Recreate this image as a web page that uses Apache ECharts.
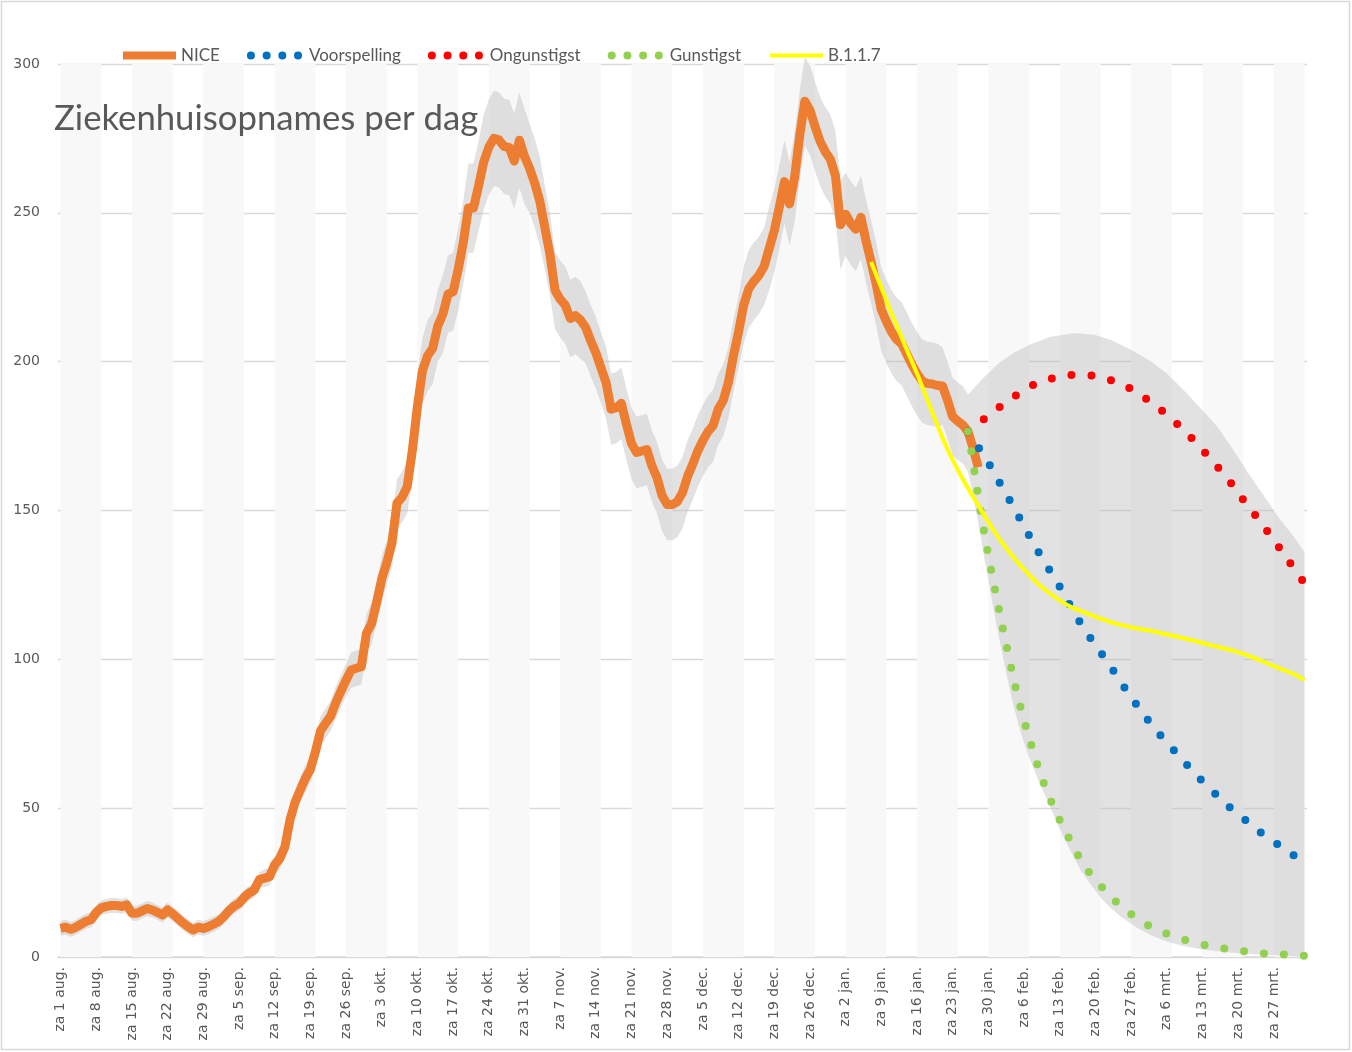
<!DOCTYPE html>
<html><head><meta charset="utf-8">
<script src="https://cdn.jsdelivr.net/npm/echarts@6/dist/echarts.min.js"></script>
<style>html,body{margin:0;padding:0;background:#fff}#c{width:1352px;height:1052px}</style>
</head><body><div id="c"></div>
<script>
// ---------- data ----------
const START_DATE = '2020-08-01';
const DAY_COUNT = 245; // 1 aug 2020 .. 2 apr 2021
const WEEKDAYS = ['zo','ma','di','wo','do','vr','za'];
const MONTHS = ['jan.','feb.','mrt.','apr.','mei','jun.','jul.','aug.','sep.','okt.','nov.','dec.'];
const Y_TICKS = [0, 50, 100, 150, 200, 250, 300];

// NICE daily hospital admissions, from 1 aug 2020
const NICE = [
  9.6, 10, 9.3, 10, 11, 12, 12.5, 15, 16.5, 17,
  17.3, 17.3, 17, 17.5, 14.7, 14.7, 15.5, 16.3, 15.8, 15,
  14.1, 15.8, 14.5, 13, 11.5, 10.2, 9.1, 10, 9.6, 10.2,
  11, 11.9, 13.5, 15.5, 17, 18, 20, 21.5, 22.5, 26,
  26.5, 27, 31, 33, 37, 46, 52, 56, 60, 63,
  69, 76, 78.5, 81, 85.5, 89.3, 93, 96.4, 97, 97.5,
  108.7, 112, 119, 127, 132.5, 139, 152.5, 154.5, 158, 170,
  185, 197, 202, 204.5, 212, 216, 222.7, 223.5, 231, 240,
  251.6, 251.6, 259, 267, 272, 275, 274.5, 272.3, 272, 267.4,
  274.4, 269, 265, 260, 254, 245, 236, 224, 221, 219,
  214.5, 215.5, 214, 211.5, 207, 203, 198, 193, 184, 184.5,
  186, 179, 172.5, 169.5, 170, 170.5, 165, 161, 155, 152,
  152, 153, 156, 161.5, 165.5, 170, 173.5, 176.5, 178.5, 184,
  187, 193, 202, 210, 219, 224.5, 227, 229, 232, 238,
  244, 252, 260.5, 253, 262, 276, 287.5, 284.5, 279, 274,
  270.5, 268, 262.5, 246, 249.5, 246.5, 244.5, 248.5, 240.5, 233.5,
  226, 217.5, 213.5, 210, 207.5, 206, 202.5, 199, 196, 193.5,
  192.7, 192.5, 192, 191.8, 187, 181.5, 180, 178.7, 176.5, 171, 164.5
];
// half width of the grey band around NICE, days 0..177
const NICE_SPREAD = [
  2.5,2.5,2.5,2.5,2.5,2.5,2.5,2.5,2.5,2.5,
  2.5,2.5,2.5,2.5,2.5,2.5,2.5,2.5,2.5,2.5,
  2.5,2.5,2.5,2.5,2.5,2.5,2.5,2.5,2.5,2.5,
  2.5,2.5,2.5,2.5,2.5,2.5,2.5,2.5,2.5,2.5,
  3,3,3,3.5,3.5,4,4,4,4.5,4.5,
  5,5,5,5,5.5,5.5,5.5,6,6,6,
  6.5,7,7,7.5,7.5,8,8,8.5,9,10,
  11,11,12,12,12,13,13,13,14,14,
  15,15,15,16,16,16,16,16,16,16,
  16,16,15,15,15,14,14,13,13,13,
  13,13,13,12,12,12,12,12,12,12,
  12,12,12,12,12,12,12,12,12,12,
  12,12,12,12,12,12,12,12,12,12,
  12,12,12,12,13,13,13,13,13,14,
  14,14,14,14,15,15,15,15,15,15,
  15,15,15,15,14,14,14,14,14,14,
  14,14,14,14,14,14,14,14,14,14,
  14,14,14,13,13,13,13,13
];
const VOORSPELLING = [
  ['2021-01-26',176.5],['2021-01-28',171.3],['2021-01-30',166],['2021-02-01',160],['2021-02-03',154],
  ['2021-02-05',147.8],['2021-02-07',141.6],['2021-02-09',135.5],['2021-02-11',130],['2021-02-13',124.4],
  ['2021-02-15',118.2],['2021-02-17',112.4],['2021-02-19',107.2],['2021-02-21',102.4],['2021-02-23',97.5],
  ['2021-02-25',92.3],['2021-02-27',87.3],['2021-03-01',82.6],['2021-03-03',78.1],['2021-03-05',74],
  ['2021-03-07',70.2],['2021-03-09',66.3],['2021-03-11',62.6],['2021-03-13',59],['2021-03-15',55.7],
  ['2021-03-17',52.4],['2021-03-19',49.3],['2021-03-21',46.6],['2021-03-23',43.8],['2021-03-25',41.1],
  ['2021-03-27',38.7],['2021-03-29',36.4],['2021-03-31',34],['2021-04-02',32]
];
const ONGUNSTIGST = [
  ['2021-01-26',176.5],['2021-01-29',180.5],['2021-02-01',184.5],['2021-02-04',188.2],['2021-02-07',191.5],
  ['2021-02-10',193.6],['2021-02-13',194.9],['2021-02-16',195.6],['2021-02-19',195.4],['2021-02-22',194.3],
  ['2021-02-25',192.5],['2021-02-28',189.8],['2021-03-03',186.2],['2021-03-06',182.2],['2021-03-09',177.5],
  ['2021-03-12',172.3],['2021-03-15',166.5],['2021-03-18',160.5],['2021-03-21',153.6],['2021-03-24',147],
  ['2021-03-27',140],['2021-03-30',132.8],['2021-04-02',125.5]
];
const GUNSTIGST = [
  ['2021-01-26',176.5],['2021-01-27',166],['2021-01-28',155],['2021-01-29',144.5],['2021-01-30',135],
  ['2021-01-31',126],['2021-02-01',117.5],['2021-02-02',109],['2021-02-03',101],['2021-02-04',93],
  ['2021-02-05',86],['2021-02-06',79.5],['2021-02-07',73.5],['2021-02-08',68],['2021-02-09',62.5],
  ['2021-02-10',57.8],['2021-02-11',53.5],['2021-02-13',46],['2021-02-15',39.3],['2021-02-17',33],
  ['2021-02-19',27.9],['2021-02-21',24],['2021-02-23',20.3],['2021-02-25',17.1],['2021-02-27',14.4],
  ['2021-03-02',11],['2021-03-05',8.5],['2021-03-09',6],['2021-03-13',4.2],['2021-03-17',2.9],
  ['2021-03-21',2],['2021-03-25',1.2],['2021-03-29',0.8],['2021-04-02',0.4]
];
const B117 = [
  ['2021-01-07',233.5],['2021-01-10',220.5],['2021-01-13',208],['2021-01-16',196],['2021-01-19',183],
  ['2021-01-22',170.5],['2021-01-25',160.5],['2021-01-28',151.8],['2021-01-31',143.4],['2021-02-03',136.2],
  ['2021-02-06',130.2],['2021-02-09',125],['2021-02-12',121],['2021-02-15',117.8],['2021-02-18',115.7],
  ['2021-02-21',113.7],['2021-02-24',112],['2021-02-27',110.8],['2021-03-03',109.5],['2021-03-07',108],
  ['2021-03-11',106.4],['2021-03-15',104.6],['2021-03-19',102.9],['2021-03-23',100.6],['2021-03-27',97.7],
  ['2021-03-31',95],['2021-04-02',93]
];
const BAND_UPPER = [
  ['2021-01-26',189],['2021-01-29',194.5],['2021-02-01',199.5],['2021-02-04',203],['2021-02-07',205.6],
  ['2021-02-11',208.3],['2021-02-16',209.6],['2021-02-20',209],['2021-02-23',207.3],['2021-02-27',204],
  ['2021-03-03',200],['2021-03-06',196],['2021-03-09',191],['2021-03-12',185.5],['2021-03-16',178],
  ['2021-03-19',170.5],['2021-03-22',162.5],['2021-03-25',155],['2021-03-28',147.5],['2021-03-31',141],
  ['2021-04-02',136]
];
const BAND_LOWER = [
  ['2021-01-26',163],['2021-01-27',155],['2021-01-28',146],['2021-01-29',136],['2021-01-30',126.5],
  ['2021-01-31',117],['2021-02-01',108],['2021-02-02',99.5],['2021-02-03',91.5],['2021-02-04',84],
  ['2021-02-05',77.5],['2021-02-06',72],['2021-02-07',67],['2021-02-09',58.5],['2021-02-11',51],
  ['2021-02-13',43],['2021-02-15',36],['2021-02-17',29.5],['2021-02-19',24.5],['2021-02-21',20],
  ['2021-02-23',16.5],['2021-02-25',13.5],['2021-02-28',10],['2021-03-03',7.2],['2021-03-06',5.2],
  ['2021-03-09',3.8],['2021-03-13',2.5],['2021-03-17',1.7],['2021-03-23',0.9],['2021-03-29',0.4],
  ['2021-04-02',0]
];
const STRIPE_EVERY = 14, STRIPE_DAYS = 8;

// ---------- helpers ----------
const DAY_MS = 864e5;
const t0 = Date.parse(START_DATE);
const dayIndex = iso => Math.round((Date.parse(iso) - t0) / DAY_MS);
const categories = [];
for (let i = 0; i < DAY_COUNT; i++) {
  const d = new Date(t0 + i * DAY_MS);
  categories.push(WEEKDAYS[d.getUTCDay()] + ' ' + d.getUTCDate() + ' ' + MONTHS[d.getUTCMonth()]);
}
const toPairs = arr => arr.map(p => [dayIndex(p[0]), p[1]]);
const stripeStarts = [];
for (let i = 0; i < DAY_COUNT; i += STRIPE_EVERY) stripeStarts.push(i);
const bandEnd = dayIndex(BAND_UPPER[0][0]);

const TXT = '#595959';
const NOSYM = {color: 'rgba(0,0,0,0)', borderWidth: 0, opacity: 0};
const chart = echarts.init(document.getElementById('c'), null, {renderer: 'canvas'});

chart.setOption({
  animation: false,
  backgroundColor: '#ffffff',
  graphic: [{type: 'rect', shape: {x: 1.5, y: 1.5, width: 1348, height: 1048},
    style: {fill: 'none', stroke: '#d9d9d9', lineWidth: 1.5}, silent: true, z: -10}],
  title: {text: 'Ziekenhuisopnames per dag', left: 49, top: 96,
    textStyle: {fontFamily: 'Lato', fontSize: 34.7, fontWeight: 'normal', color: TXT}},
  legend: {
    left: 114, top: 42, itemWidth: 53, itemHeight: 10, itemGap: 27,
    textStyle: {fontFamily: 'Lato', fontSize: 17, color: TXT},
    data: [
      {name: 'NICE', itemStyle: NOSYM, lineStyle: {width: 8, type: 'solid', color: '#ED7D31'}},
      {name: 'Voorspelling', itemStyle: NOSYM, lineStyle: {width: 8, type: [0, 15.7], cap: 'round', color: '#0070C0'}},
      {name: 'Ongunstigst', itemStyle: NOSYM, lineStyle: {width: 8, type: [0, 15.7], cap: 'round', color: '#FF0000'}},
      {name: 'Gunstigst', itemStyle: NOSYM, lineStyle: {width: 8, type: [0, 15.7], cap: 'round', color: '#92D050'}},
      {name: 'B.1.1.7', itemStyle: NOSYM, lineStyle: {width: 4, type: 'solid', color: '#FFFF00'}}
    ]
  },
  grid: {left: 58, right: 45, top: 64, bottom: 95, containLabel: false},
  xAxis: {
    type: 'category', data: categories, boundaryGap: true,
    axisLine: {show: true, lineStyle: {color: '#d9d9d9', width: 1.5}},
    axisTick: {show: false},
    axisLabel: {interval: 6, rotate: 90, margin: 10, fontFamily: 'DejaVu Sans', fontSize: 14, color: TXT},
    splitLine: {show: false}
  },
  yAxis: {
    type: 'value', min: Y_TICKS[0], max: Y_TICKS[Y_TICKS.length - 1], interval: 50,
    axisLine: {show: false}, axisTick: {show: false},
    axisLabel: {margin: 18, fontFamily: 'DejaVu Sans', fontSize: 14, color: TXT},
    splitLine: {lineStyle: {color: '#d9d9d9', width: 1.3}}
  },
  series: [
    { // weekly background stripes
      type: 'custom', name: 'stripes', silent: true, z: 1,
      data: stripeStarts.map(s => [s, 0]),
      renderItem: (params, api) => {
        const s = api.value(0);
        const e = Math.min(s + STRIPE_DAYS, DAY_COUNT - 1);
        const cs = params.coordSys;
        const x0 = api.coord([s, 0])[0], x1 = api.coord([e, 0])[0];
        return {type: 'rect', shape: {x: x0, y: cs.y, width: x1 - x0, height: cs.height},
          style: {fill: '#f8f8f8'}};
      }
    },
    { // grey uncertainty band
      type: 'custom', name: 'band', silent: true, z: 2,
      data: [[0, 0]],
      renderItem: (params, api) => {
        const pts = [];
        for (let i = 0; i < bandEnd; i++) pts.push(api.coord([i, NICE[i] + NICE_SPREAD[i]]));
        toPairs(BAND_UPPER).forEach(p => pts.push(api.coord(p)));
        toPairs(BAND_LOWER).reverse().forEach(p => pts.push(api.coord(p)));
        for (let i = bandEnd - 1; i >= 0; i--) pts.push(api.coord([i, Math.max(0, NICE[i] - NICE_SPREAD[i])]));
        return {type: 'polygon', shape: {points: pts}, style: {fill: 'rgba(190,190,190,0.45)'}};
      }
    },
    {name: 'NICE', type: 'line', z: 3, data: NICE, symbol: 'none',
      lineStyle: {color: '#ED7D31', width: 9, join: 'round'}, itemStyle: {color: '#ED7D31'}},
    {name: 'Voorspelling', type: 'line', z: 4, data: toPairs(VOORSPELLING), symbol: 'none', smooth: 0.35,
      lineStyle: {color: '#0070C0', width: 8, type: [0, 20], cap: 'round'}, itemStyle: {color: '#0070C0'}},
    {name: 'Ongunstigst', type: 'line', z: 5, data: toPairs(ONGUNSTIGST), symbol: 'none', smooth: 0.35,
      lineStyle: {color: '#FF0000', width: 8, type: [0, 20], cap: 'round'}, itemStyle: {color: '#FF0000'}},
    {name: 'Gunstigst', type: 'line', z: 6, data: toPairs(GUNSTIGST), symbol: 'none', smooth: 0.35,
      lineStyle: {color: '#92D050', width: 8, type: [0, 20], cap: 'round'}, itemStyle: {color: '#92D050'}},
    {name: 'B.1.1.7', type: 'line', z: 7, data: toPairs(B117), symbol: 'none', smooth: 0.35,
      lineStyle: {color: '#FFFF00', width: 4}, itemStyle: {color: '#FFFF00'}}
  ]
});
</script>
</body></html>
